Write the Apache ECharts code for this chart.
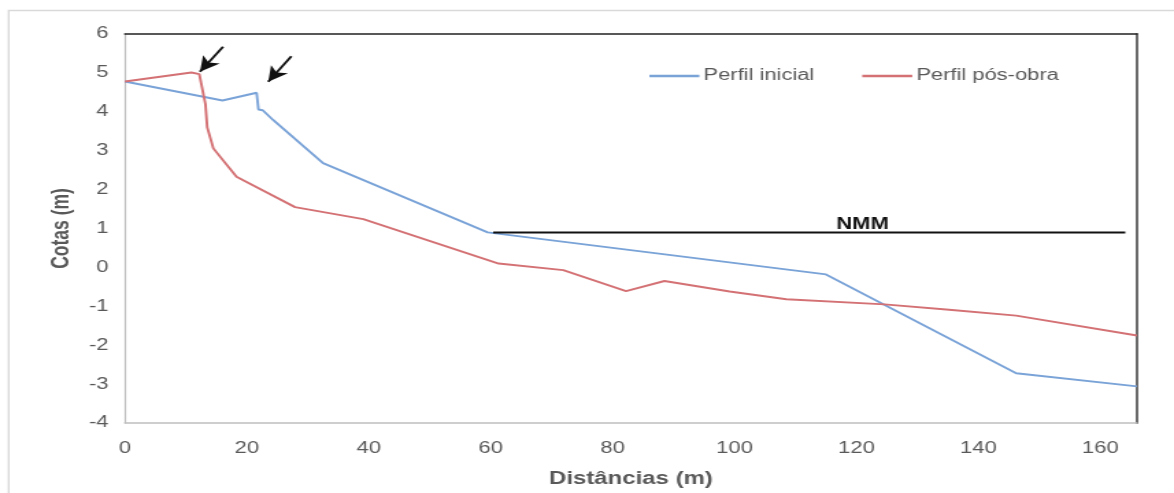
<!DOCTYPE html>
<html>
<head>
<meta charset="utf-8">
<script src="https://cdn.jsdelivr.net/npm/echarts@6/dist/echarts.min.js"></script>
<style>
html,body{margin:0;padding:0;background:#fff;overflow:hidden;width:1174px;height:493px;}
#c{width:857px;height:493px;transform:scaleX(1.3699);transform-origin:0 0;}
</style>
</head>
<body>
<div id="c"></div>
<script>
// Perfil inicial: [distância (m), cota (m)]
const perfilInicial = [
  [0, 4.78], [16, 4.29], [21.6, 4.49], [21.9, 4.06], [22.6, 4.04], [24.3, 3.79],
  [32.5, 2.68], [59.5, 0.9], [115, -0.18], [146.2, -2.72], [166, -3.06]
];
// Perfil pós-obra
const perfilPosObra = [
  [0, 4.78], [10.9, 5.01], [12.2, 4.97], [13.2, 4.2], [13.5, 3.6], [14.5, 3.06],
  [18.3, 2.33], [27.9, 1.55], [39.1, 1.24], [61.3, 0.1], [71.9, -0.07],
  [82.2, -0.61], [88.5, -0.35], [99.2, -0.62], [108.5, -0.82], [124.6, -0.95],
  [135.2, -1.09], [146.2, -1.24], [166, -1.75]
];
// Nível médio do mar
const nmmLine = [[60.4, 0.9], [164.1, 0.9]];
const nmmLabelPos = [121, 0.9];
// Setas (cauda -> ponta)
const arrowTails = [[16.1, 5.67], [27.3, 5.43]];
const arrowHeads = [[12.3, 5.03], [23.5, 4.77]];

const xMin = 0, xMax = 166, xInterval = 20;
const yMin = -4, yMax = 6, yInterval = 1;

const FONT = 'Liberation Sans, Arial, sans-serif';
const chart = echarts.init(document.getElementById('c'));
chart.setOption({
  animation: false,
  backgroundColor: '#fff',
  graphic: [{
    type: 'rect', shape: {x: 6.3, y: 10.5, width: 1000, height: 700},
    style: {fill: 'none', stroke: '#d9d9d9', lineWidth: 1.3}, z: -10
  }],
  grid: {left: 91.2, right: 27.1, top: 34, bottom: 70},
  legend: {
    data: ['Perfil inicial', 'Perfil pós-obra'],
    left: 469, top: 63,
    icon: 'rect', itemWidth: 36.5, itemHeight: 2.5, itemGap: 35,
    textStyle: {fontFamily: FONT, fontSize: 16, color: '#595959', padding: [0, 0, 0, -2]}
  },
  xAxis: [{
    type: 'value', min: xMin, max: xMax, interval: xInterval,
    name: 'Distâncias (m)', nameLocation: 'middle', nameGap: 47,
    nameTextStyle: {fontFamily: FONT, fontSize: 17.5, fontWeight: 'bold', color: '#595959'},
    axisLine: {show: true, onZero: false, lineStyle: {color: '#bfbfbf', width: 1.5}},
    axisTick: {show: false}, splitLine: {show: false},
    axisLabel: {fontFamily: FONT, fontSize: 16, color: '#595959', margin: 18, showMaxLabel: false}
  }, {
    type: 'value', position: 'top', min: xMin, max: xMax,
    axisLine: {show: true, onZero: false, lineStyle: {color: '#222', width: 1.5}},
    axisTick: {show: false}, splitLine: {show: false}, axisLabel: {show: false}
  }],
  yAxis: [{
    type: 'value', min: yMin, max: yMax, interval: yInterval,
    name: 'Cotas (m)', nameLocation: 'middle', nameGap: 31,
    nameTextStyle: {fontFamily: FONT, fontSize: 17.5, fontWeight: 'bold', color: '#595959'},
    axisLine: {show: true, onZero: false, lineStyle: {color: '#bfbfbf', width: 1.2}},
    axisTick: {show: false}, splitLine: {show: false},
    axisLabel: {fontFamily: FONT, fontSize: 16, color: '#595959', margin: 12}
  }, {
    type: 'value', position: 'right', min: yMin, max: yMax,
    axisLine: {show: true, onZero: false, lineStyle: {color: '#6b6b6b', width: 2}},
    axisTick: {show: false}, splitLine: {show: false}, axisLabel: {show: false}
  }],
  series: [{
    name: 'Perfil inicial', type: 'line', data: perfilInicial,
    showSymbol: false, symbol: 'none',
    lineStyle: {color: '#7aa3d8', width: 1.9}, itemStyle: {color: '#7aa3d8'}
  }, {
    name: 'Perfil pós-obra', type: 'line', data: perfilPosObra,
    showSymbol: false, symbol: 'none',
    lineStyle: {color: '#d47174', width: 1.9}, itemStyle: {color: '#d47174'}
  }, {
    name: 'NMM', type: 'line', data: nmmLine, symbol: 'none',
    lineStyle: {color: '#111', width: 2}, itemStyle: {color: '#111'},
    markPoint: {
      symbol: 'circle', symbolSize: 0,
      data: [{coord: nmmLabelPos}],
      label: {show: true, position: 'top', distance: 0, formatter: 'NMM',
        fontFamily: FONT, fontSize: 16, fontWeight: 'bold', color: '#111'}
    },
    markLine: {
      silent: true, symbol: ['none', 'arrow'], symbolSize: [11, 15],
      lineStyle: {color: '#111', width: 1.9, type: 'solid'},
      label: {show: false},
      data: arrowTails.map((t, i) => [{coord: t}, {coord: arrowHeads[i]}])
    }
  }]
});
</script>
</body>
</html>
